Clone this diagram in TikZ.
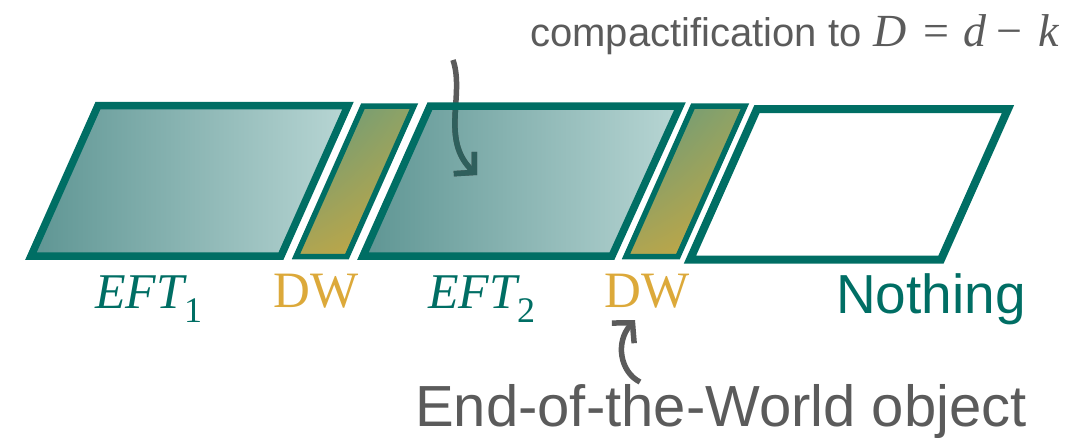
\documentclass[tikz,border=0pt]{standalone}
\usepackage{fontspec}
\setmainfont{Liberation Sans}
\newfontfamily\tms{Liberation Serif}
\usetikzlibrary{arrows.meta,shadings}

\definecolor{edgeteal}{HTML}{006E64}
\definecolor{eftL}{HTML}{5E9593}
\definecolor{eftR}{HTML}{B8D6D4}
\definecolor{dwUL}{HTML}{5F9880}
\definecolor{dwUR}{HTML}{8FA366}
\definecolor{dwLL}{HTML}{AFA552}
\definecolor{dwLR}{HTML}{CBA83C}
\definecolor{dwgold}{HTML}{DCA93A}
\definecolor{textgray}{HTML}{5B5B5B}
\definecolor{arrowdark}{HTML}{2F5F5C}

% italic and upright serif pieces of the formula
\newcommand\mvar[1]{{\tms\fontsize{46}{52}\selectfont\itshape #1}}
\newcommand\mrel[1]{{\tms\fontsize{46}{52}\selectfont #1}}
% EFT with an upright subscript
\newcommand\eftlabel[1]{{\tms\fontsize{50}{60}\selectfont\itshape EFT}\raisebox{-14pt}{\tms\fontsize{36}{40}\selectfont #1}}

\begin{document}
\begin{tikzpicture}[x=1pt,y=-1pt,
  eftfill/.style={left color=eftL, right color=eftR},
  dwfill/.style={upper left=dwUL, upper right=dwUR, lower left=dwLL, lower right=dwLR},
  eftedge/.style={draw=edgeteal, line width=7.5pt, line join=miter},
  dwedge/.style={draw=edgeteal, line width=5.5pt, line join=miter},
  voidedge/.style={draw=edgeteal, line width=8pt, line join=miter},
  pointer/.style={line width=5.5pt, -{Straight Barb[length=14pt,width=30pt]}},
  tag/.style={inner sep=0pt, anchor=base west},
  eftname/.style={tag, text=edgeteal},
  dwname/.style={tag, text=dwgold, font=\tms\fontsize{51}{60}\selectfont},
  note/.style={tag, text=textgray}
]
\useasboundingbox (0,0) rectangle (1092,439);

% corners of the five slabs (top left, top right, bottom right, bottom left)
\coordinate (e1a) at (98,105.5);  \coordinate (e1b) at (348,105.5);
\coordinate (e1c) at (281,256);   \coordinate (e1d) at (31,256);
\coordinate (w1a) at (363,106);   \coordinate (w1b) at (414,106);
\coordinate (w1c) at (347,256.5); \coordinate (w1d) at (296,256.5);
\coordinate (e2a) at (430,106);   \coordinate (e2b) at (680,106);
\coordinate (e2c) at (612,256);   \coordinate (e2d) at (363,256);
\coordinate (w2a) at (693,106);   \coordinate (w2b) at (745,106);
\coordinate (w2c) at (678,256.5); \coordinate (w2d) at (626,256.5);
\coordinate (n0a) at (757,109);   \coordinate (n0b) at (1008,109);
\coordinate (n0c) at (941,259.5); \coordinate (n0d) at (690,259.5);

% arrow end points
\coordinate (compTail) at (453,60);
\coordinate (compTip) at (477,175);
\coordinate (eowTail) at (640,382);
\coordinate (eowTip) at (635,320);

% fills
\shade[eftfill] (e1a) -- (e1b) -- (e1c) -- (e1d) -- cycle;
\shade[dwfill]  (w1a) -- (w1b) -- (w1c) -- (w1d) -- cycle;
\shade[eftfill] (e2a) -- (e2b) -- (e2c) -- (e2d) -- cycle;
\shade[dwfill]  (w2a) -- (w2b) -- (w2c) -- (w2d) -- cycle;

% compactification arrow: grey outside the slab, darker where it lies on it
\draw[pointer, textgray] (compTail) .. controls (465,95) and (440,140) .. (compTip);
\begin{scope}
  \clip (e2a) -- (e2b) -- (e2c) -- (e2d) -- cycle;
  \draw[pointer, arrowdark] (compTail) .. controls (465,95) and (440,140) .. (compTip);
\end{scope}

% outlines
\draw[eftedge]  (e1a) -- (e1b) -- (e1c) -- (e1d) -- cycle;
\draw[dwedge]   (w1a) -- (w1b) -- (w1c) -- (w1d) -- cycle;
\draw[eftedge]  (e2a) -- (e2b) -- (e2c) -- (e2d) -- cycle;
\draw[dwedge]   (w2a) -- (w2b) -- (w2c) -- (w2d) -- cycle;
\draw[voidedge] (n0a) -- (n0b) -- (n0c) -- (n0d) -- cycle;

% labels
\node[eftname] (eft1) at (95,308) {\eftlabel{1}};
\node[dwname]  (dw1)  at (273,307) {DW};
\node[eftname] (eft2) at (428,308) {\eftlabel{2}};
\node[dwname]  (dw2)  at (604,307) {DW};
\node[tag, text=edgeteal, font=\fontsize{55}{60}\selectfont] (nothing) at (836,313) {Nothing};

\node[note, font=\fontsize{40}{46}\selectfont] (comp) at (530,46)
  {compactification to\hspace{12pt}\mvar{D}\hspace{17pt}\mrel{=}\hspace{14pt}\mvar{d}\hspace{10pt}\mrel{−}\hspace{16pt}\mvar{k}};
\node[note, font=\fontsize{58}{64}\selectfont] (eow) at (415,426) {End-of-the-World object};

% end-of-the-world pointer
\draw[pointer, textgray] (eowTail) .. controls (620,372) and (615,342) .. (eowTip);
\end{tikzpicture}
\end{document}
